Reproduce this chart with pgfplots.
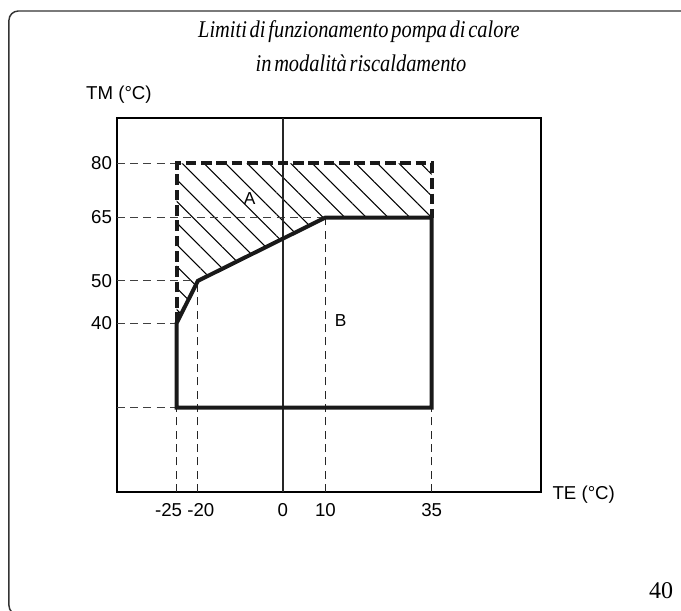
\documentclass[border=0pt]{standalone}
\usepackage{fontspec}
\setsansfont{Liberation Sans}
\newfontfamily\titlefont[WordSpace=0.55,FakeStretch=0.85]{Liberation Serif}
\newfontfamily\pagefont{Liberation Serif}
\usepackage{pgfplots}
\pgfplotsset{compat=1.18}
\usetikzlibrary{patterns.meta}
\begin{document}
\begin{tikzpicture}
\useasboundingbox (-87.5pt,-88.5pt) rectangle (423.2pt,369pt);
\draw[line width=1.1pt, black!80, rounded corners=7pt] (-80.8pt,-92pt) rectangle (440pt,360.75pt);
\begin{axis}[
  at={(0,0)}, anchor=south west, scale only axis,
  width=318.2pt, height=280.7pt,
  xmin=-39.1, xmax=60.7, ymin=0, ymax=92.7,
  y coord trafo/.code={\pgfmathparse{(#1>65) ? (65+(#1-65)*0.853) : (#1)}},
  axis line style={line width=1.4pt},
  major tick length=0pt,
  xtick={-25,-20,0,10,35},
  xticklabels={{-25\kern12pt},{\kern4.5pt-20},0,10,35},
  ytick={40,50,65,80},
  yticklabels={40,50,65,80},
  ticklabel style={font=\sffamily\fontsize{14}{14}\selectfont},
  xticklabel style={yshift=-5pt},
  /pgf/number format/assume math mode=true,
  clip=false,
]
% region A hatch
\addplot[draw=none, pattern={Lines[angle=-45, distance=11.5pt, line width=0.8pt]}]
  coordinates {(-25,40) (-25,80) (35,80) (35,65) (10,65) (-20,50)} -- cycle;
% thin dashed guide lines
\addplot[line width=0.8pt, black!75, dash pattern=on 6pt off 4pt] coordinates {(-39.1,80) (-25,80)};
\addplot[line width=0.8pt, black!75, dash pattern=on 6pt off 4pt] coordinates {(-39.1,65) (10,65)};
\addplot[line width=0.8pt, black!75, dash pattern=on 6pt off 4pt] coordinates {(-39.1,50) (-20,50)};
\addplot[line width=0.8pt, black!75, dash pattern=on 6pt off 4pt] coordinates {(-39.1,40) (-25,40)};
\addplot[line width=0.8pt, black!75, dash pattern=on 6pt off 4pt] coordinates {(-39.1,20) (-25,20)};
\addplot[line width=0.8pt, black!85, dash pattern=on 6pt off 4pt] coordinates {(-25,0) (-25,20)};
\addplot[line width=0.8pt, black!85, dash pattern=on 6pt off 4pt] coordinates {(-20,0) (-20,50)};
\addplot[line width=0.8pt, black!85, dash pattern=on 6pt off 4pt] coordinates {(10,0) (10,65)};
\addplot[line width=0.8pt, black!85, dash pattern=on 6pt off 4pt] coordinates {(35,0) (35,20)};
% vertical line at 0
\addplot[line width=1.3pt, black!85] coordinates {(0,0) (0,92.7)};
% limit A (dashed thick)
\addplot[line width=3pt, black!90, dash pattern=on 8pt off 3.5pt] coordinates {(-25,40) (-25,80) (35,80) (35,65)};
% limit B (solid thick)
\addplot[line width=3pt, black!90, line join=miter] coordinates {(-25,20) (-25,40) (-20,50) (10,65) (35,65) (35,20)} -- cycle;
\node[font=\sffamily\fontsize{13}{13}\selectfont] at (axis cs:-7.8,70.4) {A};
\node[font=\sffamily\fontsize{13}{13}\selectfont] at (axis cs:13.6,40.7) {B};
\end{axis}
\node[font=\sffamily\fontsize{14}{14}\selectfont] at (1.7pt,297.75pt) {TM (°C)};
\node[font=\sffamily\fontsize{14}{14}\selectfont] at (350.25pt,-2.25pt) {TE (°C)};
\node[font=\titlefont\itshape\fontsize{18}{18}\selectfont] at (181.7pt,345pt) {Limiti di funzionamento pompa di calore};
\node[font=\titlefont\itshape\fontsize{18}{18}\selectfont] at (183.2pt,321.75pt) {in modalità riscaldamento};
\node[font=\pagefont\fontsize{18}{18}\selectfont] at (408.2pt,-74.25pt) {40};
\end{tikzpicture}
\end{document}
